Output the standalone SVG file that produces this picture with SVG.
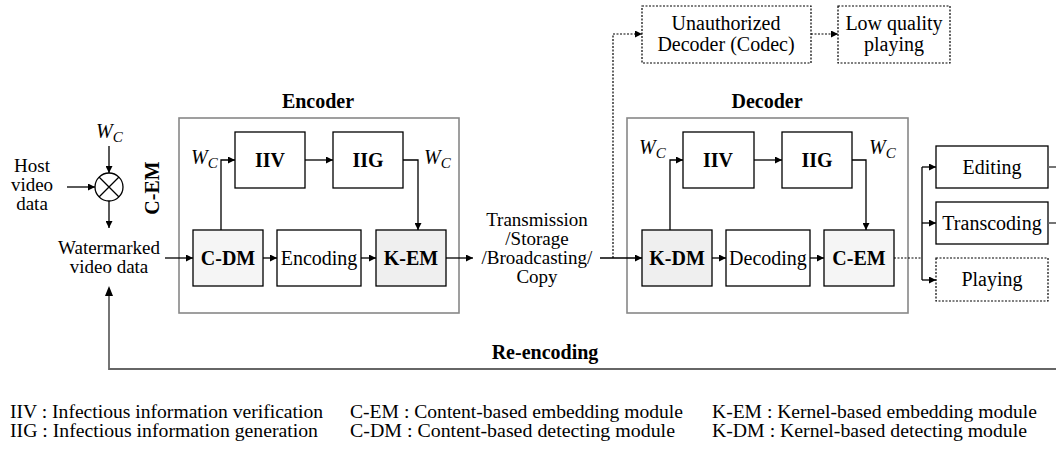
<svg xmlns="http://www.w3.org/2000/svg" width="1056" height="449" viewBox="0 0 1056 449">
  <defs>
    <marker id="arr" viewBox="0 0 10 10" refX="10" refY="5" markerWidth="9" markerHeight="7" markerUnits="userSpaceOnUse" orient="auto">
      <path d="M0,0 L10,5 L0,10 Z" fill="#000"/>
    </marker>
  </defs>
  <style>
    text { font-family: "Liberation Serif", "Times New Roman", serif; fill: #000; }
    .t { font-size: 20px; text-anchor: middle; }
    .m { font-size: 19px; text-anchor: middle; }
    .b { font-size: 20px; font-weight: bold; text-anchor: middle; }
    .w { font-size: 20px; font-style: italic; }
    .lg { font-size: 18px; }
    .box { fill: #fff; stroke: #000; stroke-width: 1.3; }
    .cbox { fill: #f5f5f5; stroke: #000; stroke-width: 1.3; }
    .kbox { fill: #efefef; stroke: #000; stroke-width: 1.3; }
    .dbox { fill: #fff; stroke: #000; stroke-width: 1.2; stroke-dasharray: 2 1.5; }
    .frame { fill: none; stroke: #888; stroke-width: 1.6; }
    .ln { fill: none; stroke: #000; stroke-width: 1.3; }
    .dl { fill: none; stroke: #000; stroke-width: 1.2; stroke-dasharray: 2 1.5; }
    .gl { fill: none; stroke: #666; stroke-width: 1.8; }
  </style>

  <!-- watermark mixer on the input side -->
  <g id="mixer">
    <text class="w" x="96" y="138">W<tspan font-size="15" dy="4">C</tspan></text>
    <circle cx="109" cy="187" r="14" fill="#fff" stroke="#000" stroke-width="1.3"/>
    <path d="M99,177 L119,197 M119,177 L99,197" class="ln"/>
    <text class="m" x="32" y="172">Host</text>
    <text class="m" x="32" y="191">video</text>
    <text class="m" x="32" y="210">data</text>
    <text class="b" transform="translate(159,188) rotate(-90)">C-EM</text>
    <text class="m" x="109" y="254">Watermarked</text>
    <text class="m" x="109" y="273">video data</text>
  </g>

  <!-- encoder -->
  <g id="encoder">
    <rect class="frame" x="179" y="118" width="280" height="195"/>
    <text class="b" x="318" y="108">Encoder</text>
    <text class="w" x="191" y="164">W<tspan font-size="15" dy="4">C</tspan></text>
    <text class="w" x="424" y="164">W<tspan font-size="15" dy="4">C</tspan></text>
  </g>
  <g id="enc-iiv"><rect class="box" x="235" y="132" width="70" height="56"/><text class="b" x="270" y="167">IIV</text></g>
  <g id="enc-iig"><rect class="box" x="333" y="132" width="70" height="56"/><text class="b" x="368" y="167">IIG</text></g>
  <g id="enc-cdm"><rect class="cbox" x="193" y="230" width="70" height="56"/><text class="b" x="228" y="265">C-DM</text></g>
  <g id="enc-encoding"><rect class="box" x="277" y="230" width="84" height="56"/><text class="t" x="319" y="265">Encoding</text></g>
  <g id="enc-kem"><rect class="kbox" x="376" y="230" width="70" height="56"/><text class="b" x="411" y="265">K-EM</text></g>

  <!-- channel -->
  <g id="channel">
    <text class="m" x="537" y="226">Transmission</text>
    <text class="m" x="537" y="245">/Storage</text>
    <text class="m" x="537" y="264">/Broadcasting/</text>
    <text class="m" x="537" y="283">Copy</text>
  </g>

  <!-- unauthorized path -->
  <g id="unauth"><rect class="dbox" x="642" y="6" width="169" height="57"/><text class="t" x="726" y="30">Unauthorized</text><text class="t" x="726" y="51">Decoder (Codec)</text></g>
  <g id="lowq"><rect class="dbox" x="838" y="6" width="112" height="57"/><text class="t" x="894" y="30">Low quality</text><text class="t" x="894" y="51">playing</text></g>

  <!-- decoder -->
  <g id="decoder">
    <rect class="frame" x="627" y="118" width="281" height="195"/>
    <text class="b" x="767" y="108">Decoder</text>
    <text class="w" x="639" y="154">W<tspan font-size="15" dy="4">C</tspan></text>
    <text class="w" x="869" y="154">W<tspan font-size="15" dy="4">C</tspan></text>
  </g>
  <g id="dec-iiv"><rect class="box" x="683" y="132" width="71" height="56"/><text class="b" x="718" y="167">IIV</text></g>
  <g id="dec-iig"><rect class="box" x="782" y="132" width="70" height="56"/><text class="b" x="817" y="167">IIG</text></g>
  <g id="dec-kdm"><rect class="kbox" x="642" y="230" width="70" height="56"/><text class="b" x="677" y="265">K-DM</text></g>
  <g id="dec-decoding"><rect class="box" x="726" y="230" width="84" height="56"/><text class="t" x="768" y="265">Decoding</text></g>
  <g id="dec-cem"><rect class="cbox" x="824" y="230" width="70" height="56"/><text class="b" x="859" y="265">C-EM</text></g>

  <!-- uses -->
  <g id="editing"><rect class="box" x="936" y="146" width="112" height="42"/><text class="t" x="992" y="174">Editing</text></g>
  <g id="transcoding"><rect class="box" x="936" y="202" width="112" height="42"/><text class="t" x="992" y="230">Transcoding</text></g>
  <g id="playing"><rect class="dbox" x="936" y="258" width="112" height="43"/><text class="t" x="992" y="286">Playing</text></g>

  <text class="b" x="545" y="359">Re-encoding</text>

  <!-- connectors -->
  <g id="connectors">
    <path class="ln" d="M109,146 L109,173" marker-end="url(#arr)"/>
    <path class="ln" d="M67,187 L95,187" marker-end="url(#arr)"/>
    <path class="ln" d="M109,201 L109,228" marker-end="url(#arr)"/>
    <path class="ln" d="M165,258 L193,258" marker-end="url(#arr)"/>

    <path class="ln" d="M221,230 L221,160 L235,160" marker-end="url(#arr)"/>
    <path class="ln" d="M305,160 L333,160" marker-end="url(#arr)"/>
    <path class="ln" d="M403,160 L418,160 L418,230" marker-end="url(#arr)"/>
    <path class="ln" d="M263,258 L277,258" marker-end="url(#arr)"/>
    <path class="ln" d="M361,258 L376,258" marker-end="url(#arr)"/>
    <path class="ln" d="M446,258 L473,258" marker-end="url(#arr)"/>

    <path class="ln" d="M600,258 L642,258" marker-end="url(#arr)"/>
    <path class="dl" d="M613,258 L613,34 L642,34" marker-end="url(#arr)"/>
    <path class="dl" d="M811,34 L838,34" marker-end="url(#arr)"/>

    <path class="ln" d="M670,230 L670,160 L683,160" marker-end="url(#arr)"/>
    <path class="ln" d="M754,160 L782,160" marker-end="url(#arr)"/>
    <path class="ln" d="M852,160 L866,160 L866,230" marker-end="url(#arr)"/>
    <path class="ln" d="M712,258 L726,258" marker-end="url(#arr)"/>
    <path class="ln" d="M810,258 L824,258" marker-end="url(#arr)"/>

    <path class="dl" d="M894,258 L922,258"/>
    <path class="ln" d="M922,167 L922,280"/>
    <path class="ln" d="M922,167 L936,167" marker-end="url(#arr)"/>
    <path class="ln" d="M922,223 L936,223" marker-end="url(#arr)"/>
    <path class="ln" d="M922,280 L936,280" marker-end="url(#arr)"/>

    <path class="gl" d="M1048,167 L1056,167"/>
    <path class="gl" d="M1048,223 L1056,223"/>
    <path class="gl" d="M1056,369 L109,369 L109,289"/>
    <path d="M109,286 L105,296 L113,296 Z" fill="#000"/>
  </g>

  <!-- legend -->
  <g id="legend">
    <text class="lg" x="10" y="418" textLength="313" lengthAdjust="spacingAndGlyphs">IIV : Infectious information verification</text>
    <text class="lg" x="10" y="437" textLength="308" lengthAdjust="spacingAndGlyphs">IIG : Infectious information generation</text>
    <text class="lg" x="350" y="418" textLength="333" lengthAdjust="spacingAndGlyphs">C-EM : Content-based embedding module</text>
    <text class="lg" x="350" y="437" textLength="325" lengthAdjust="spacingAndGlyphs">C-DM : Content-based detecting  module</text>
    <text class="lg" x="712" y="418" textLength="325" lengthAdjust="spacingAndGlyphs">K-EM : Kernel-based embedding module</text>
    <text class="lg" x="712" y="437" textLength="315" lengthAdjust="spacingAndGlyphs">K-DM : Kernel-based detecting  module</text>
  </g>
</svg>
